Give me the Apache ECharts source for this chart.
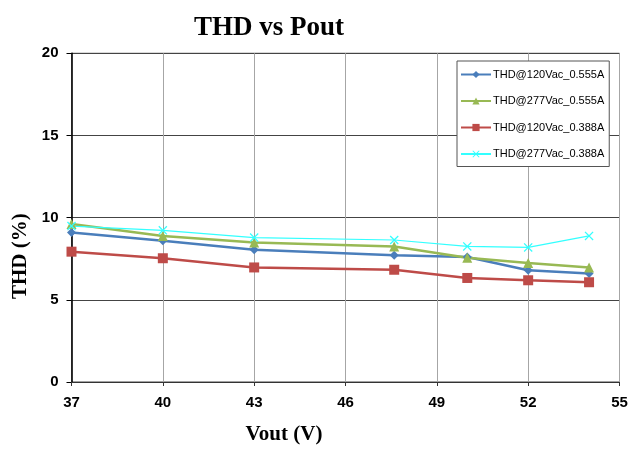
<!DOCTYPE html>
<html>
<head>
<meta charset="utf-8">
<script src="https://cdn.jsdelivr.net/npm/echarts@6/dist/echarts.min.js"></script>
<style>
html,body{margin:0;padding:0;background:#fff;overflow:hidden;}
#chart{width:100vw;height:100vh;}
</style>
</head>
<body>
<div id="chart"></div>
<script>
var vout = [37, 40, 43, 47.6, 50, 52, 54];
var thd120_555 = [9.10, 8.60, 8.04, 7.71, 7.60, 6.80, 6.60];
var thd277_555 = [9.62, 8.89, 8.49, 8.25, 7.56, 7.24, 6.96];
var thd120_388 = [7.93, 7.53, 6.97, 6.83, 6.33, 6.19, 6.07];
var thd277_388 = [9.49, 9.23, 8.79, 8.64, 8.25, 8.19, 8.89];
var seriesNames = ['THD@120Vac_0.555A', 'THD@277Vac_0.555A', 'THD@120Vac_0.388A', 'THD@277Vac_0.388A'];
var xTicks = [37, 40, 43, 46, 49, 52, 55];
var yTicks = [0, 5, 10, 15, 20];

function pairs(ys) { return vout.map(function (x, i) { return [x, ys[i]]; }); }

var xSymbol = 'path://M0,1L1,0L5,4L9,0L10,1L6,5L10,9L9,10L5,6L1,10L0,9L4,5Z';

var chart = echarts.init(document.getElementById('chart'));
chart.setOption({
  animation: false,
  backgroundColor: '#fff',
  title: {
    text: 'THD vs Pout',
    left: 264, top: 10,
    textAlign: 'center',
    textStyle: { fontFamily: 'Liberation Serif', fontWeight: 'bold', fontSize: 27, color: '#000' }
  },
  legend: {
    orient: 'vertical',
    left: 457, top: 61,
    padding: [8, 5, 7, 3],
    itemGap: 15.5,
    itemWidth: 30,
    itemHeight: 9,
    backgroundColor: '#fff',
    borderColor: '#555',
    borderWidth: 1,
    textStyle: { fontFamily: 'Liberation Sans', fontSize: 11, color: '#000', padding: [0, 0, 0, -3] },
    data: seriesNames
  },
  grid: {
    left: 71.5, right: 11.5, top: 53.3, bottom: 63.3,
    show: true, borderColor: '#444', borderWidth: 1, backgroundColor: 'transparent'
  },
  xAxis: {
    type: 'value',
    min: xTicks[0], max: xTicks[xTicks.length - 1], interval: 3,
    name: 'Vout (V)',
    nameLocation: 'middle',
    nameGap: 42,
    nameTextStyle: { fontFamily: 'Liberation Serif', fontWeight: 'bold', fontSize: 21, color: '#000', padding: [0, 123, 0, 0] },
    axisLine: { lineStyle: { color: '#333', width: 1.2 } },
    axisTick: { show: true, length: 4, lineStyle: { color: '#333' } },
    axisLabel: { margin: 13, fontFamily: 'Liberation Sans', fontWeight: 'bold', fontSize: 15, color: '#000' },
    splitLine: { show: true, lineStyle: { color: '#a6a6a6', width: 1 } }
  },
  yAxis: {
    type: 'value',
    min: yTicks[0], max: yTicks[yTicks.length - 1], interval: 5,
    name: 'THD (%)',
    nameLocation: 'middle',
    nameGap: 38,
    nameTextStyle: { fontFamily: 'Liberation Serif', fontWeight: 'bold', fontSize: 21, color: '#000', padding: [0, 77, 0, 0] },
    axisLine: { show: true, lineStyle: { color: '#000', width: 1.6 } },
    axisTick: { show: true, length: 5, lineStyle: { color: '#000' } },
    axisLabel: { margin: 13, fontFamily: 'Liberation Sans', fontWeight: 'bold', fontSize: 15, color: '#000' },
    splitLine: { show: true, lineStyle: { color: '#444', width: 1 } }
  },
  series: [
    {
      name: seriesNames[0], type: 'line', data: pairs(thd120_555),
      symbol: 'diamond', symbolSize: 9, showAllSymbol: true,
      lineStyle: { color: '#4A7EBB', width: 2.5 },
      itemStyle: { color: '#4A7EBB' }
    },
    {
      name: seriesNames[1], type: 'line', data: pairs(thd277_555),
      symbol: 'triangle', symbolSize: 10,
      lineStyle: { color: '#98B954', width: 2.5 },
      itemStyle: { color: '#98B954' }
    },
    {
      name: seriesNames[2], type: 'line', data: pairs(thd120_388),
      symbol: 'rect', symbolSize: 10,
      lineStyle: { color: '#BE4B48', width: 2.5 },
      itemStyle: { color: '#BE4B48' }
    },
    {
      name: seriesNames[3], type: 'line', data: pairs(thd277_388),
      symbol: xSymbol, symbolSize: 9,
      lineStyle: { color: '#33FFFF', width: 1.2 },
      itemStyle: { color: '#33FFFF' }
    }
  ]
});
</script>
</body>
</html>
